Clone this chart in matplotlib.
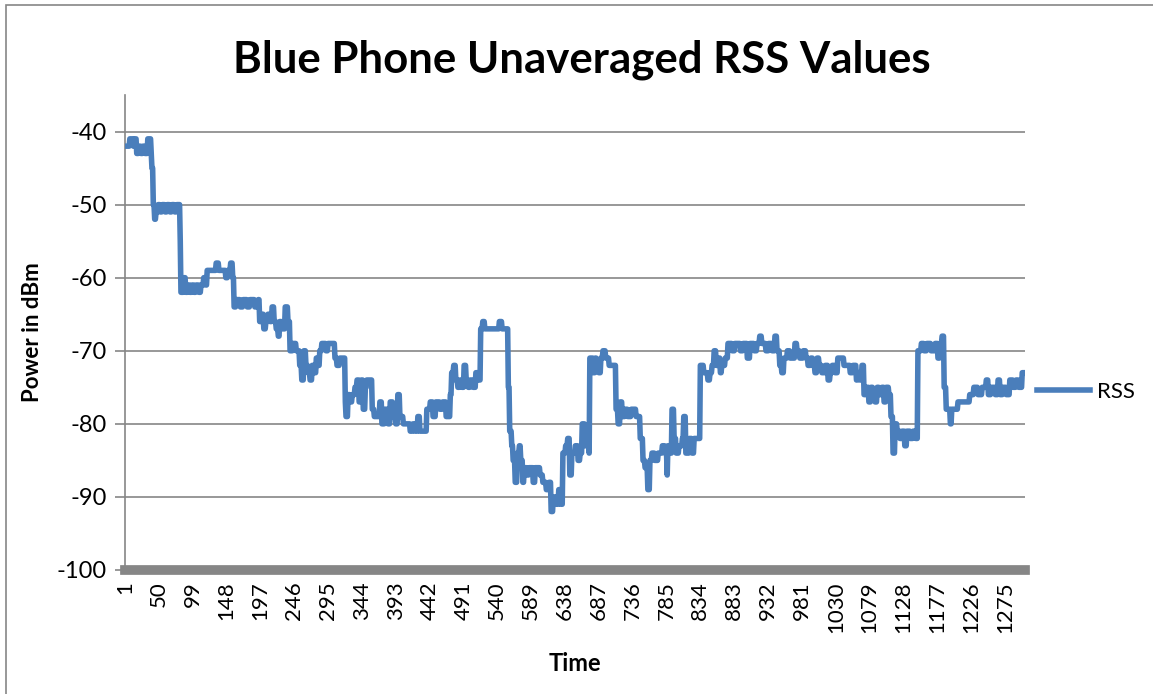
"""Blue phone RSS trace, unaveraged, drawn in the old Excel line-chart look."""
import numpy as np
import matplotlib
matplotlib.use("Agg")
import matplotlib.pyplot as plt
from matplotlib.patches import Rectangle

plt.rcParams["font.family"] = ["Lato", "DejaVu Sans"]

# RSS trace as run-length steps: sample index where a level starts, and the level (dBm)
starts = [1, 8, 13, 15, 18, 21, 24, 27, 30, 34, 39, 40, 42, 44, 46, 49, 52, 55, 59, 62,
          66, 69, 73, 76, 81, 82, 86, 89, 92, 95, 98, 101, 104, 108, 111, 115, 118, 120,
          133, 137, 147, 150, 154, 157, 159, 162, 168, 172, 178, 182, 189, 194, 196, 199,
          202, 205, 208, 211, 214, 217, 220, 223, 225, 228, 233, 237, 240, 244, 249, 254,
          257, 260, 263, 266, 269, 272, 275, 278, 280, 283, 286, 292, 295, 305, 308, 312,
          320, 321, 324, 327, 330, 334, 337, 340, 343, 346, 349, 351, 359, 362, 370, 373,
          377, 382, 385, 389, 393, 396, 399, 404, 414, 418, 421, 425, 428, 438, 443, 447,
          451, 457, 461, 466, 472, 474, 477, 480, 483, 486, 489, 492, 495, 498, 501, 505,
          509, 512, 516, 519, 522, 543, 547, 556, 558, 561, 563, 566, 569, 572, 574, 577,
          579, 583, 586, 592, 595, 602, 606, 611, 615, 618, 621, 625, 629, 632, 635, 639,
          642, 645, 648, 653, 657, 660, 663, 667, 670, 673, 674, 679, 682, 684, 687, 690,
          693, 697, 702, 712, 715, 718, 721, 725, 729, 734, 741, 747, 751, 754, 758, 761,
          764, 768, 773, 779, 783, 786, 787, 790, 793, 796, 799, 803, 808, 810, 813, 818,
          822, 825, 834, 839, 845, 848, 851, 854, 857, 860, 863, 865, 870, 874, 880, 884,
          892, 896, 902, 906, 912, 916, 920, 923, 929, 933, 938, 942, 945, 949, 952, 955,
          960, 964, 971, 974, 978, 983, 987, 990, 994, 997, 1000, 1003, 1006, 1010, 1015,
          1019, 1022, 1025, 1029, 1033, 1042, 1051, 1055, 1060, 1062, 1065, 1068, 1071,
          1074, 1078, 1081, 1084, 1087, 1090, 1093, 1097, 1100, 1103, 1107, 1110, 1113,
          1116, 1119, 1123, 1126, 1130, 1133, 1138, 1142, 1146, 1149, 1154, 1158, 1162,
          1168, 1174, 1178, 1181, 1184, 1187, 1190, 1196, 1198, 1207, 1224, 1230, 1236,
          1242, 1248, 1251, 1255, 1261, 1265, 1268, 1272, 1277, 1282, 1287, 1291, 1295,
          1300]
levels = [-42, -41, -42, -41, -43, -42, -43, -42, -43, -41, -43, -45, -50, -52, -51, -50,
          -51, -50, -51, -50, -51, -50, -51, -50, -55, -62, -60, -62, -61, -62, -61, -62,
          -61, -62, -61, -60, -61, -59, -58, -59, -60, -59, -58, -60, -64, -63, -64, -63,
          -64, -63, -64, -63, -66, -65, -67, -66, -65, -66, -64, -66, -67, -68, -66, -67,
          -64, -66, -70, -69, -70, -72, -74, -70, -72, -73, -74, -72, -73, -71, -72, -70,
          -69, -70, -69, -71, -72, -71, -77, -79, -76, -77, -76, -75, -74, -77, -74, -78,
          -75, -74, -78, -79, -77, -80, -78, -80, -77, -79, -80, -76, -79, -80, -81, -80,
          -81, -79, -81, -78, -77, -79, -77, -78, -77, -79, -76, -73, -72, -74, -75, -74,
          -75, -72, -74, -75, -74, -75, -73, -74, -67, -66, -67, -66, -67, -75, -81, -83,
          -85, -88, -84, -83, -85, -88, -86, -87, -86, -88, -86, -87, -88, -89, -88, -92,
          -90, -91, -89, -91, -84, -83, -82, -87, -84, -83, -85, -84, -80, -83, -81, -84,
          -71, -73, -71, -72, -73, -71, -70, -71, -72, -78, -80, -77, -79, -78, -79, -78,
          -79, -82, -85, -86, -89, -85, -84, -85, -84, -83, -84, -87, -83, -84, -78, -82,
          -84, -83, -82, -79, -84, -82, -84, -82, -72, -73, -74, -73, -72, -70, -72, -71,
          -73, -72, -71, -69, -70, -69, -70, -69, -71, -69, -70, -69, -68, -69, -70, -69,
          -70, -68, -70, -72, -73, -71, -70, -71, -69, -70, -71, -70, -71, -72, -71, -72,
          -73, -71, -72, -73, -72, -74, -73, -72, -73, -71, -72, -73, -72, -74, -73, -74,
          -72, -76, -75, -77, -75, -76, -77, -75, -76, -75, -77, -75, -76, -79, -84, -80,
          -81, -82, -81, -83, -81, -82, -81, -82, -70, -69, -70, -69, -70, -69, -71, -69,
          -68, -75, -78, -80, -78, -77, -76, -75, -76, -75, -74, -76, -75, -76, -74, -76,
          -75, -76, -74, -75, -74, -75, -73]
n_samples = 1304

x_ticks = list(range(1, 1276, 49))
y_ticks = [-100, -90, -80, -70, -60, -50, -40]

lengths = np.diff(starts + [n_samples + 1])
rss = np.repeat(levels, lengths)
t = np.arange(1, n_samples + 1)

blue = "#4a7ebb"
grey = "#868686"

fig = plt.figure(figsize=(11.53, 6.94), dpi=100)
ax = fig.add_axes([125 / 1153, 1 - 570 / 694, 900 / 1153, 475 / 694])

ax.plot(t, rss, color=blue, lw=4.0, solid_joinstyle="round", label="RSS", zorder=3)

ax.set_xlim(1, n_samples)
ax.set_ylim(-100, -35)
ax.set_yticks(y_ticks)
ax.set_yticklabels([str(v) for v in y_ticks], fontsize=17)
ax.set_xticks(x_ticks)
ax.set_xticklabels([str(v) for v in x_ticks], rotation=90, fontsize=16)
ax.tick_params(axis="y", length=7, width=1.2, color=grey, pad=6)
ax.tick_params(axis="x", length=0, pad=8)

for v in y_ticks[1:]:
    ax.axhline(v, color=grey, lw=1.2, zorder=1)

for side in ("top", "right"):
    ax.spines[side].set_visible(False)
ax.spines["left"].set_color(grey)
ax.spines["left"].set_linewidth(1.2)
ax.spines["bottom"].set_color(grey)
ax.spines["bottom"].set_linewidth(7)

ax.set_xlabel("Time", fontsize=17, fontweight="bold", labelpad=14)
ax.set_ylabel("Power in dBm", fontsize=16, fontweight="bold", labelpad=10)

fig.text(582 / 1153, 1 - 60 / 694, "Blue Phone Unaveraged RSS Values",
         ha="center", va="center", fontsize=31.5, fontweight="bold")

ax.legend(loc="center left", bbox_to_anchor=(0.996, 0.375), frameon=False,
          fontsize=16, handlelength=2.4, handletextpad=0.3, borderaxespad=0.3)

# chart-area border
fig.patches.append(Rectangle((6 / 1153, -0.1), 1.2, 1.1 - 5 / 694,
                             transform=fig.transFigure, fill=False,
                             edgecolor=grey, lw=1.2))

fig.savefig("out.png", dpi=100)
plt.close(fig)
